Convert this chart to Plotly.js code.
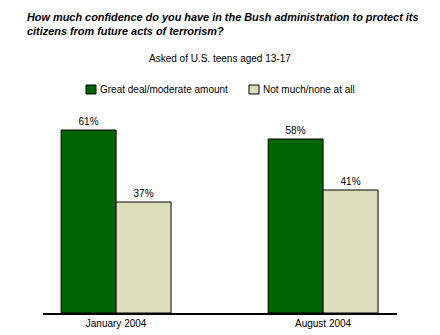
<!DOCTYPE html>
<html>
<head>
<meta charset="utf-8">
<script src="https://cdn.plot.ly/plotly-3.0.1.min.js"></script>
<style>html,body{margin:0;padding:0;background:#fff;}#chart{width:440px;height:335px;}</style>
</head>
<body>
<div id="chart"></div>
<script>
const categories = ["January 2004", "August 2004"];
const greatDeal = [61, 58];
const notMuch = [37, 41];
const seriesNames = ["Great deal/moderate amount", "Not much/none at all"];
const seriesColors = ["#006400", "#DDDDBB"];

const FONT = "Arial, 'Liberation Sans', sans-serif";

const traces = [greatDeal, notMuch].map((vals, i) => ({
  type: "bar", name: seriesNames[i], x: categories, y: vals,
  marker: {color: seriesColors[i], line: {color: "#000", width: 1}},
  text: vals.map(v => v + "%"), textposition: "outside",
  textfont: {family: FONT, size: 10, color: "#000"}, cliponaxis: false,
  hoverinfo: "none", showlegend: false
}));

// legend drawn as swatches + labels in paper coordinates
const legendBoxes = [[0.1215, 0.1497], [0.5819, 0.6102]];
const legendTextX = [0.1582, 0.6186];
const legendShapes = legendBoxes.map((b, i) => ({
  type: "rect", xref: "paper", yref: "paper", x0: b[0], x1: b[1], y0: 1.0429, y1: 1.0857,
  fillcolor: seriesColors[i], line: {color: "#000", width: 1}
}));
const legendLabels = seriesNames.map((n, i) => ({
  xref: "paper", yref: "paper", x: legendTextX[i], y: 1.0643, xanchor: "left", yanchor: "middle",
  showarrow: false, text: n, font: {family: FONT, size: 10, color: "#000"}, borderpad: 0
}));

const layout = {
  width: 440, height: 335,
  margin: {l: 43, r: 43, t: 103, b: 22},
  paper_bgcolor: "#fff", plot_bgcolor: "#fff",
  barmode: "group", bargap: 0.469, bargroupgap: 0,
  font: {family: FONT, size: 10, color: "#000"},
  showlegend: false,
  xaxis: {
    type: "category", range: [-0.353, 1.357], showgrid: false, zeroline: false,
    showline: true, linecolor: "#000", linewidth: 2, ticks: "",
    tickfont: {family: FONT, size: 10, color: "#000"}, fixedrange: true
  },
  yaxis: {
    range: [0, 70], showgrid: false, zeroline: false, showline: false,
    showticklabels: false, ticks: "", fixedrange: true
  },
  shapes: legendShapes,
  annotations: [
    {xref: "paper", yref: "paper", x: -0.048, y: 1.443, xanchor: "left", yanchor: "top",
     align: "left", showarrow: false, borderpad: 0,
     text: "<b><i>How much confidence do you have in the Bush administration to protect its<br>citizens from future acts of terrorism?</i></b>",
     font: {family: FONT, size: 10.9, color: "#000"}},
    {xref: "paper", yref: "paper", x: 0.5, y: 1.21, xanchor: "center", yanchor: "middle",
     showarrow: false, text: "Asked of U.S. teens aged 13-17",
     font: {family: FONT, size: 10, color: "#000"}}
  ].concat(legendLabels)
};

Plotly.newPlot("chart", traces, layout, {displayModeBar: false, staticPlot: true});
</script>
</body>
</html>
